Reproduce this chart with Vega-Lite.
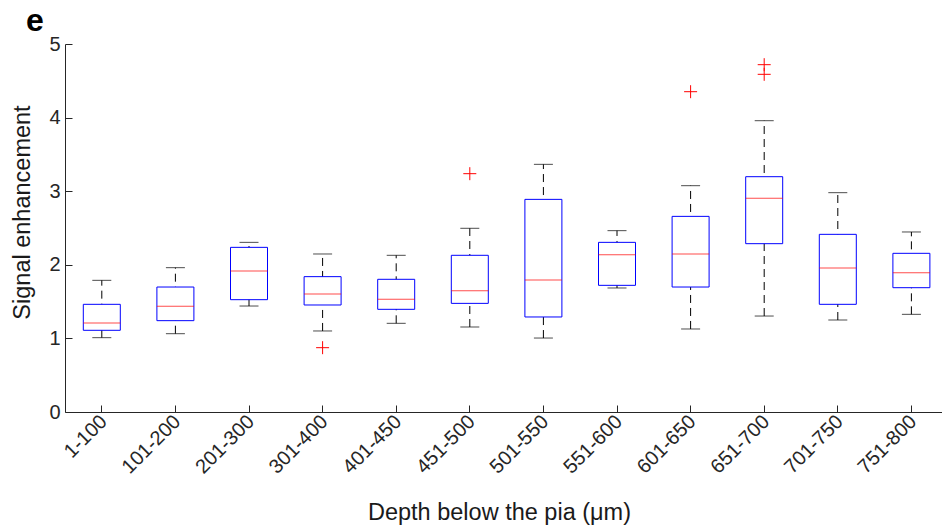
{
  "$schema": "https://vega.github.io/schema/vega-lite/v6.json",
  "width": 877,
  "height": 368,
  "autosize": "none",
  "padding": {"left": 65, "top": 44, "right": 0, "bottom": 119},
  "background": "white",
  "title": {"text": "e", "anchor": "start", "frame": "group", "dx": -39, "dy": 33, "fontSize": 32, "fontWeight": "bold", "font": "Liberation Sans", "color": "black", "baseline": "alphabetic", "offset": 4},
  "config": {
    "view": {"stroke": null},
    "font": "Liberation Sans",
    "axis": {"grid": false, "domainColor": "#262626", "tickColor": "#262626", "labelColor": "#262626", "titleColor": "#1a1a1a", "labelFont": "Liberation Sans", "titleFont": "Liberation Sans", "titleFontWeight": "normal", "labelFontSize": 20, "titleFontSize": 23.5, "tickSize": -7, "domainWidth": 1, "tickWidth": 1}
  },
  "datasets": {
    "boxes": [
      {"cat": "1-100", "lo": 1.01, "q1": 1.11, "med": 1.21, "q3": 1.463, "hi": 1.789},
      {"cat": "101-200", "lo": 1.064, "q1": 1.241, "med": 1.436, "q3": 1.698, "hi": 1.961},
      {"cat": "201-300", "lo": 1.44, "q1": 1.526, "med": 1.916, "q3": 2.237, "hi": 2.305},
      {"cat": "301-400", "lo": 1.101, "q1": 1.454, "med": 1.603, "q3": 1.839, "hi": 2.147},
      {"cat": "401-450", "lo": 1.205, "q1": 1.395, "med": 1.531, "q3": 1.803, "hi": 2.129},
      {"cat": "451-500", "lo": 1.155, "q1": 1.476, "med": 1.649, "q3": 2.129, "hi": 2.496},
      {"cat": "501-550", "lo": 1.005, "q1": 1.291, "med": 1.793, "q3": 2.889, "hi": 3.365},
      {"cat": "551-600", "lo": 1.685, "q1": 1.721, "med": 2.138, "q3": 2.305, "hi": 2.464},
      {"cat": "601-650", "lo": 1.128, "q1": 1.698, "med": 2.147, "q3": 2.658, "hi": 3.075},
      {"cat": "651-700", "lo": 1.304, "q1": 2.287, "med": 2.903, "q3": 3.197, "hi": 3.958},
      {"cat": "701-750", "lo": 1.25, "q1": 1.463, "med": 1.957, "q3": 2.414, "hi": 2.98},
      {"cat": "751-800", "lo": 1.327, "q1": 1.689, "med": 1.893, "q3": 2.156, "hi": 2.446}
    ],
    "outliers": [
      {"cat": "301-400", "v": 0.874},
      {"cat": "451-500", "v": 3.238},
      {"cat": "601-650", "v": 4.352},
      {"cat": "651-700", "v": 4.719},
      {"cat": "651-700", "v": 4.588}
    ]
  },
  "encoding": {
    "x": {
      "field": "cat",
      "type": "nominal",
      "sort": null,
      "scale": {
        "domain": ["1-100", "101-200", "201-300", "301-400", "401-450", "451-500", "501-550", "551-600", "601-650", "651-700", "701-750", "751-800"],
        "range": [0, 883.2],
        "paddingInner": 0,
        "paddingOuter": 0
      },
      "axis": {"title": "Depth below the pia (μm)", "labelAngle": -45, "labelPadding": 6, "labelOffset": -5, "titleX": 434, "titleY": 107, "titleBaseline": "alphabetic", "titleAnchor": "middle"}
    }
  },
  "layer": [
    {
      "data": {"name": "boxes"},
      "mark": {"type": "rule", "color": "black", "strokeWidth": 1, "strokeDash": [8, 5]},
      "encoding": {
        "y": {"field": "lo", "type": "quantitative", "scale": {"domain": [0, 5], "nice": false, "zero": false}, "axis": {"title": "Signal enhancement", "values": [0, 1, 2, 3, 4, 5], "format": "d", "labelPadding": 12, "titleX": -36, "titleY": 168, "titleAngle": -90, "titleBaseline": "alphabetic", "titleAlign": "center"}},
        "y2": {"field": "hi"}
      }
    },
    {
      "data": {"name": "boxes"},
      "mark": {"type": "bar", "size": 37, "fill": "white", "stroke": "#0000ff", "strokeWidth": 1},
      "encoding": {
        "y": {"field": "q1", "type": "quantitative"},
        "y2": {"field": "q3"}
      }
    },
    {
      "data": {"name": "boxes"},
      "mark": {"type": "tick", "color": "#ff0000", "size": 37, "thickness": 1},
      "encoding": {"y": {"field": "med", "type": "quantitative"}}
    },
    {
      "data": {"name": "boxes"},
      "mark": {"type": "tick", "color": "black", "size": 19, "thickness": 1},
      "encoding": {"y": {"field": "lo", "type": "quantitative"}}
    },
    {
      "data": {"name": "boxes"},
      "mark": {"type": "tick", "color": "black", "size": 19, "thickness": 1},
      "encoding": {"y": {"field": "hi", "type": "quantitative"}}
    },
    {
      "data": {"name": "outliers"},
      "mark": {"type": "point", "shape": "M-1,0L1,0M0,-1L0,1", "size": 169, "filled": false, "stroke": "#ff0000", "strokeWidth": 1, "opacity": 1},
      "encoding": {"y": {"field": "v", "type": "quantitative"}}
    }
  ]
}
